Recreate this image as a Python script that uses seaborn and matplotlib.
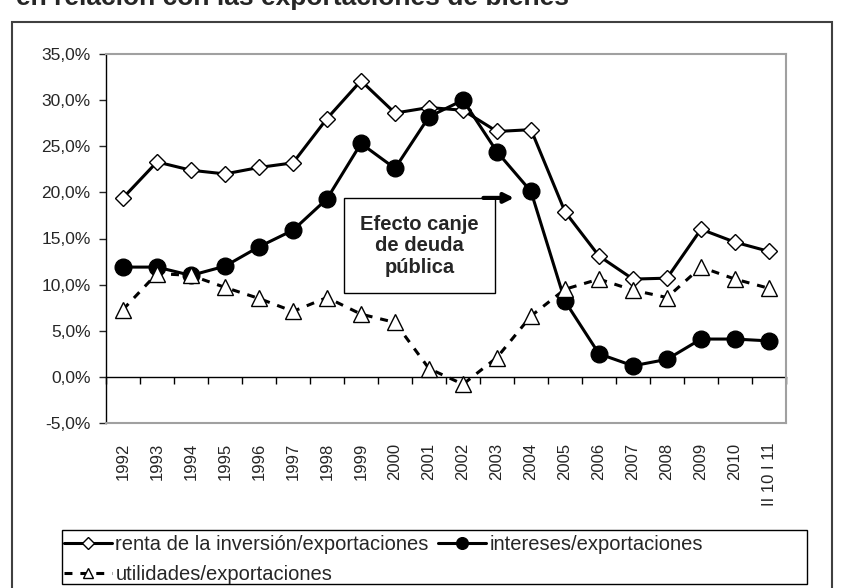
import numpy as np
import pandas as pd
import matplotlib
matplotlib.use("Agg")
import matplotlib.pyplot as plt
from matplotlib.patches import Rectangle
import seaborn as sns

periodos = ["1992", "1993", "1994", "1995", "1996", "1997", "1998", "1999", "2000",
            "2001", "2002", "2003", "2004", "2005", "2006", "2007", "2008", "2009",
            "2010", "II 10 I 11"]
renta = [19.4, 23.3, 22.4, 22.0, 22.7, 23.2, 28.0, 32.1, 28.6, 29.2, 28.9, 26.6,
         26.8, 17.9, 13.1, 10.6, 10.7, 16.0, 14.6, 13.6]
intereses = [11.9, 11.9, 11.0, 12.0, 14.1, 15.9, 19.3, 25.3, 22.6, 28.2, 30.0, 24.4,
             20.1, 8.2, 2.5, 1.2, 1.9, 4.1, 4.1, 3.9]
utilidades = [7.3, 11.2, 11.0, 9.7, 8.5, 7.1, 8.6, 6.8, 5.9, 0.9, -0.8, 2.1,
              6.6, 9.5, 10.6, 9.4, 8.6, 11.9, 10.6, 9.6]
yticks = [-5, 0, 5, 10, 15, 20, 25, 30, 35]

titulo = "en relación con las exportaciones de bienes"
nota = "Efecto canje\nde deuda\npública"

df = pd.DataFrame({"periodo": periodos, "renta": renta,
                   "intereses": intereses, "utilidades": utilidades})
df["pos"] = range(len(df))

sns.set_style("white")
plt.rcParams["font.family"] = ["Liberation Sans", "DejaVu Sans"]

fig = plt.figure(figsize=(8.46, 5.88), dpi=100)
ax = fig.add_axes([106 / 846, 165 / 588, 680 / 846, 369 / 588])

sns.lineplot(data=df, x="pos", y="renta", ax=ax, color="black", linewidth=2.2,
             marker="D", markersize=8.6, markerfacecolor="white",
             markeredgecolor="black", markeredgewidth=1,
             label="renta de la inversión/exportaciones")
sns.lineplot(data=df, x="pos", y="intereses", ax=ax, color="black", linewidth=2.2,
             marker="o", markersize=12, markerfacecolor="black",
             markeredgecolor="black", markeredgewidth=1,
             label="intereses/exportaciones")
sns.lineplot(data=df, x="pos", y="utilidades", ax=ax, color="black", linewidth=2.2,
             linestyle=(0, (2.6, 2.6)), marker="^", markersize=11,
             markerfacecolor="white", markeredgecolor="black", markeredgewidth=1,
             label="utilidades/exportaciones")

ax.set_xlim(-0.5, len(df) - 0.5)
ax.set_ylim(-5, 35)
ax.set_xlabel("")
ax.set_ylabel("")

# y axis
ax.set_yticks(yticks)
ax.set_yticklabels([f"{v:.1f}%".replace(".", ",") for v in yticks], fontsize=12.5)
ax.tick_params(axis="y", direction="out", length=5, width=1, pad=6, left=True)

# category labels below the plot area
ax.set_xticks(df["pos"])
ax.set_xticklabels(df["periodo"], rotation=90, fontsize=12, va="top")
ax.tick_params(axis="x", length=0, pad=14)

for side in ["top", "right", "bottom"]:
    ax.spines[side].set_color("#a0a0a0")
    ax.spines[side].set_linewidth(1.5)
ax.spines["left"].set_color("black")
ax.spines["left"].set_linewidth(1)

# category axis crossing at 0%
sec = ax.secondary_xaxis(5 / 40)
sec.set_xticks(np.arange(-0.5, len(df), 1))
sec.set_xticklabels([])
sec.tick_params(axis="x", direction="out", length=5, width=1, color="black")
sec.spines["bottom"].set_color("black")
sec.spines["bottom"].set_linewidth(1)

# annotation box
ax.add_patch(Rectangle((6.5, 9.1), 4.44, 10.3, fill=False, edgecolor="black",
                       linewidth=1, zorder=1))
ax.text(8.72, 14.2, nota, ha="center", va="center", fontsize=14.5,
        fontweight="bold", linespacing=1.15, zorder=1)
ax.annotate("", xy=(11.5, 19.4), xytext=(10.6, 19.4),
            arrowprops=dict(arrowstyle="-|>", lw=3, color="black",
                            mutation_scale=14, shrinkA=0, shrinkB=0))

# legend
handles, labels = ax.get_legend_handles_labels()
ax.get_legend().remove()
order = [0, 2, 1]
fig.legend([handles[i] for i in order], [labels[i] for i in order],
           loc="upper left", bbox_to_anchor=(62 / 846, 1 - 533 / 588), ncol=2,
           frameon=False, fontsize=14.5, handlelength=2.4, handletextpad=0.15,
           columnspacing=0.45, labelspacing=0.55, borderpad=0.1, borderaxespad=0,
           markerscale=0.7)
fig.patches.append(Rectangle((62 / 846, 4 / 588), 745 / 846, 54 / 588,
                             transform=fig.transFigure, fill=False,
                             edgecolor="black", linewidth=1))

# outer frame and cut title
fig.patches.append(Rectangle((12 / 846, -0.05), 820 / 846, 1.05 - 22 / 588,
                             transform=fig.transFigure, fill=False,
                             edgecolor="#404040", linewidth=1.5))
fig.text(16 / 846, 1 - 5 / 588, titulo, ha="left", va="baseline", fontsize=19,
         fontweight="bold")

fig.savefig("out.png", dpi=100)
